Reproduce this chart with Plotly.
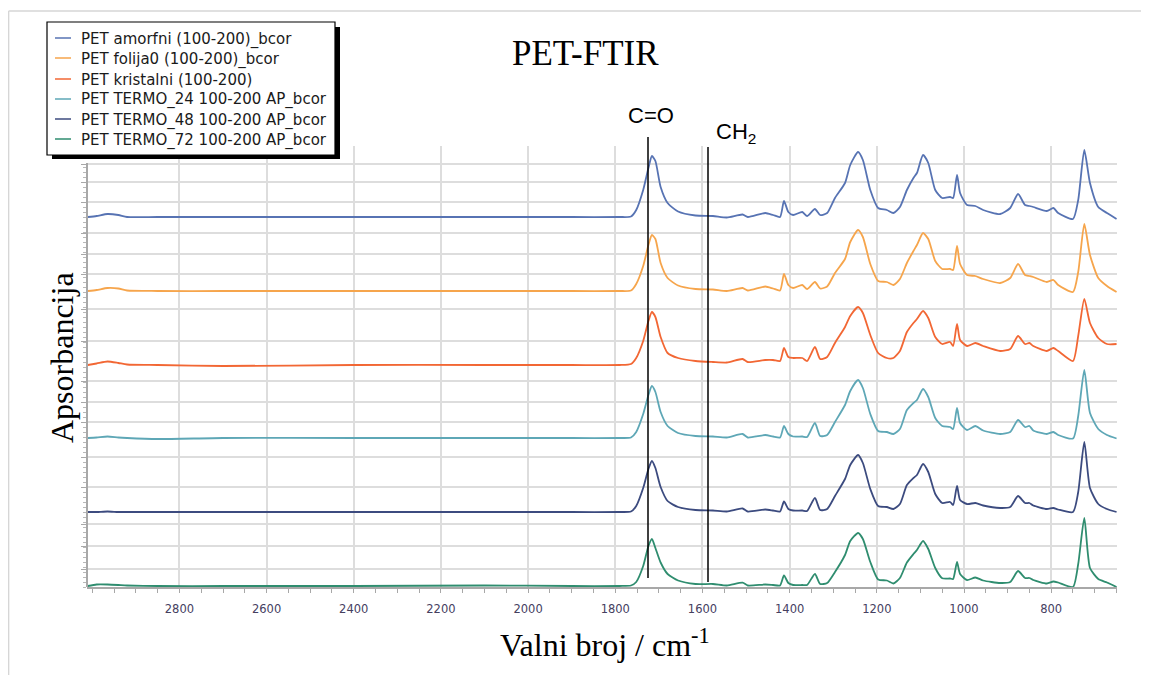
import plotly.graph_objects as go

# ---------------- data ----------------
WN = [3010, 2990, 2965, 2940, 2920, 2850, 2700, 2400, 2100, 1900, 1790, 1764, 1752, 1736,
      1724, 1716, 1708, 1696, 1680, 1656, 1616, 1576, 1544, 1508, 1496, 1456, 1438, 1422,
      1413, 1403, 1392, 1371, 1360, 1342, 1330, 1314, 1296, 1273, 1261, 1243, 1232, 1215,
      1197, 1177, 1162, 1147, 1131, 1116, 1108, 1094, 1082, 1066, 1050, 1032, 1025, 1016,
      1009, 993, 974, 956, 917, 894, 876, 860, 850, 841, 810, 795, 784, 750, 738, 724,
      711, 692, 672, 650]

AMORFNI = [0, 1, 3, 2, 0, 0, 0, 0, 0, 0, 0, 0.5, 7, 27, 49, 61, 56, 30, 14, 5.5, 1.5, 1, -0.5,
           2.5, 0, 4, 2, 0, 16, 5, 2, 5, 1, 8, 2, 4, 19, 34, 52, 65, 57, 27, 9, 7, 4, 10, 27,
           39, 44, 62, 54, 27, 19, 20, 19, 42, 24, 12, 11, 7, 3, 9, 23, 12, 11, 10, 6, 9, 4,
           -2, 17, 67, 34, 10, 4, -2]
FOLIJA0 = [0, 1, 3, 2.5, 0.5, 0, 0, 0, 0, 0, 0, 0.5, 7, 25, 46, 56, 52, 28, 13, 5.5, 2, 1.5, 0,
           3, 0.5, 4.5, 2.5, 0.5, 17, 6, 3, 6, 2, 9, 2.5, 4.5, 18, 32, 49, 61, 54, 27, 10, 9, 6,
           12, 28, 40, 46, 58, 52, 30, 22, 22, 21, 45, 27, 16, 15, 12, 8, 13, 27, 16, 15, 14,
           9, 11, 6, -1, 19, 67, 36, 13, 5, -1]
KRISTALNI = [0, 1.5, 3.5, 2, 0.5, 0, -1, 0, 0, 0, 0, 1, 7, 24, 44, 53, 48, 28, 12, 7, 4, 3, 2.5,
             6, 3, 5, 5, 4, 17, 8, 7, 7, 4, 18, 6, 8, 22, 38, 49, 58, 52, 30, 12, 7, 7, 14, 33,
             42, 46, 54, 47, 28, 21, 23, 19, 41, 25, 19, 22, 19, 14, 16, 29, 21, 22, 19, 14, 17,
             14, 4, 29, 66, 42, 27, 21, 21]
TERMO_24 = [0, 0.5, 1.5, 0.5, 0, -1, 0, 0, 0, 0, 0, 0.5, 6, 24, 43, 52, 46, 26, 12, 5, 2, 1.5,
            0.5, 4, 0.5, 3, 1.5, 0.5, 12, 4, 1.5, 1.5, 1, 15, 2, 3, 16, 33, 47, 58, 50, 24, 7, 6,
            4, 9, 28, 35, 38, 49, 41, 20, 12, 11, 9, 30, 15, 8, 12, 7.5, 4, 6, 18, 11, 12, 7.5,
            4, 6, 3, -0.5, 22, 68, 25, 9, 3, -0.5]
TERMO_48 = [0, 0, 0.5, 0, 0, 0, 0, 0, 0, 0, 0, 0.5, 6, 24, 43, 51, 44, 25, 11, 5, 2, 1.5, 0.5,
            3.5, 0.5, 2.5, 1.5, 0.5, 10.5, 3, 1.5, 1.5, 1, 14, 2, 3, 16, 33, 47, 57, 49, 23, 6,
            5, 3, 8, 27, 34, 37, 48, 40, 18, 9, 10, 7, 26, 12, 8, 9, 6.5, 4, 5, 16, 9, 9, 6.5,
            3, 4, 2.5, 0, 20, 70, 24, 8, 3, 0]
TERMO_72 = [0, 1.5, 1.5, 1, 0.5, 0, 0, 0, 0.5, 0, 0, 0.5, 4, 20, 40, 47, 38, 23.5, 12, 5.5, 2, 2,
            0.5, 3.3, 0.5, 1.5, 1, 0.5, 10.5, 3, 1, 1, 1, 12, 2, 3, 14, 31, 45, 53, 47, 24, 6.5,
            5.5, 2.5, 8, 23.5, 32, 36, 45, 37, 18, 7.8, 7.5, 7, 24, 12, 6, 8.5, 5.5, 3, 4, 15,
            8, 8, 6, 2.5, 4.5, 3.5, -1, 22, 68, 18, 7, 3.5, -1]

NAMES = ["PET amorfni (100-200)_bcor", "PET folija0 (100-200)_bcor", "PET kristalni (100-200)",
         "PET TERMO_24 100-200 AP_bcor", "PET TERMO_48 100-200 AP_bcor",
         "PET TERMO_72 100-200 AP_bcor"]
SERIES = [AMORFNI, FOLIJA0, KRISTALNI, TERMO_24, TERMO_48, TERMO_72]
OFFSETS = [370, 296, 222, 149, 75, 1]          # vertical stacking of the spectra
X_TICKS = [2800, 2600, 2400, 2200, 2000, 1800, 1600, 1400, 1200, 1000, 800]
Y_GRID = [18, 41, 63, 100, 130, 165, 185, 206, 246, 278, 313, 333, 354, 385, 405, 423]
Y_TOP = 441

# ---------------- style / layout ----------------
COLORS = ["#5773b3", "#f6a54c", "#f26734", "#5ea7b6", "#3c4b7f", "#2f8d6f"]
D = 8                       # page body margin of the browser
W, H = 1149 - D, 675 - D
L, R, T, B = 87, 1117, 146, 587   # plot area in reference-pixel coordinates


def pxx(px):
    return (px - L) / (R - L)


def pxy(py):
    return (B - py) / (B - T)


fig = go.Figure()
for name, vals, off, col in zip(NAMES, SERIES, OFFSETS, COLORS):
    fig.add_trace(go.Scatter(x=WN, y=[v + off for v in vals], mode="lines", name=name,
                             line=dict(color=col, width=1.8, shape="spline", smoothing=0.6),
                             showlegend=False, hoverinfo="skip"))

shapes = []
annotations = []

# figure frame lines (light grey)
shapes.append(dict(type="line", xref="paper", yref="paper", x0=pxx(8.6), x1=pxx(8.6),
                   y0=pxy(11), y1=pxy(675), line=dict(color="#d6d6d6", width=1.5)))
shapes.append(dict(type="line", xref="paper", yref="paper", x0=pxx(8.6), x1=pxx(1149),
                   y0=pxy(11), y1=pxy(11), line=dict(color="#d6d6d6", width=1.5)))

# y axis line (shorter than the plot area, as in the reference)
shapes.append(dict(type="line", xref="paper", yref="paper", x0=0, x1=0,
                   y0=0, y1=pxy(163), line=dict(color="#a8a8a8", width=2), layer="above"))

# band marker lines
shapes.append(dict(type="line", xref="paper", yref="paper", x0=pxx(648), x1=pxx(648),
                   y0=pxy(137), y1=pxy(578), line=dict(color="black", width=1.5), layer="above"))
shapes.append(dict(type="line", xref="paper", yref="paper", x0=pxx(708), x1=pxx(708),
                   y0=pxy(147), y1=pxy(582), line=dict(color="black", width=1.5), layer="above"))

# legend box with shadow
shapes.append(dict(type="rect", xref="paper", yref="paper", x0=pxx(52), x1=pxx(340),
                   y0=pxy(159), y1=pxy(27), fillcolor="black", line=dict(width=0), layer="above"))
shapes.append(dict(type="rect", xref="paper", yref="paper", x0=pxx(47), x1=pxx(335),
                   y0=pxy(155), y1=pxy(22), fillcolor="white",
                   line=dict(color="black", width=1.2), layer="above"))
rows = [38, 58, 79, 99, 119, 139]
for name, col, ry in zip(NAMES, COLORS, rows):
    shapes.append(dict(type="line", xref="paper", yref="paper", x0=pxx(55), x1=pxx(71),
                       y0=pxy(ry), y1=pxy(ry), line=dict(color=col, width=1.5), layer="above"))
    annotations.append(dict(text=name, xref="paper", yref="paper", x=pxx(79), y=pxy(ry + 1),
                            xanchor="left", yanchor="middle", showarrow=False,
                            font=dict(family="DejaVu Sans", size=15, color="#1a1a1a")))

# title and labels
annotations.append(dict(text="PET-FTIR", xref="paper", yref="paper", x=pxx(585), y=pxy(54),
                        xanchor="center", yanchor="middle", showarrow=False,
                        font=dict(family="Liberation Serif", size=35, color="black")))
annotations.append(dict(text="C=O", xref="paper", yref="paper", x=pxx(651), y=pxy(116),
                        xanchor="center", yanchor="middle", showarrow=False,
                        font=dict(family="Liberation Sans", size=22, color="black")))
annotations.append(dict(text="CH<sub>2</sub>", xref="paper", yref="paper", x=pxx(736),
                        y=pxy(133), xanchor="center", yanchor="middle", showarrow=False,
                        font=dict(family="Liberation Sans", size=22, color="black")))
annotations.append(dict(text="Valni broj / cm<sup>-1</sup>", xref="paper", yref="paper",
                        x=pxx(605), y=pxy(643), xanchor="center", yanchor="middle",
                        showarrow=False,
                        font=dict(family="Liberation Serif", size=32, color="black")))
annotations.append(dict(text="Apsorbancija", xref="paper", yref="paper", x=pxx(62),
                        y=pxy(358), xanchor="center", yanchor="middle", textangle=-90,
                        showarrow=False,
                        font=dict(family="Liberation Serif", size=32, color="black")))

fig.update_layout(
    width=W, height=H,
    margin=dict(l=L - D, r=(1149 - R), t=T - D, b=(675 - B), pad=0),
    paper_bgcolor="white", plot_bgcolor="white",
    showlegend=False,
    shapes=shapes, annotations=annotations,
    xaxis=dict(range=[3012, 649], tickmode="array", tickvals=X_TICKS,
               ticktext=[str(v) for v in X_TICKS],
               showgrid=True, gridcolor="#dddddd", gridwidth=2,
               showline=True, linecolor="#a8a8a8", linewidth=2,
               ticks="outside", ticklen=4, tickcolor="#a8a8a8", tickwidth=1,
               ticklabelstandoff=6,
               minor=dict(dtick=50, tick0=800, ticks="outside", ticklen=4,
                          tickcolor="#a8a8a8", showgrid=False),
               tickfont=dict(family="DejaVu Sans", size=11.5, color="#45405f"),
               zeroline=False),
    yaxis=dict(range=[0, Y_TOP], tickmode="array", tickvals=Y_GRID, showticklabels=False,
               showgrid=True, gridcolor="#dddddd", gridwidth=2,
               showline=False,
               ticks="outside", ticklen=5, tickcolor="#a8a8a8", tickwidth=1,
               minor=dict(tickmode="array", tickvals=list(range(0, 424, 5)),
                          ticks="outside", ticklen=3, tickcolor="#b8b8b8", showgrid=False),
               zeroline=False),
)

fig.write_html("out.html")
